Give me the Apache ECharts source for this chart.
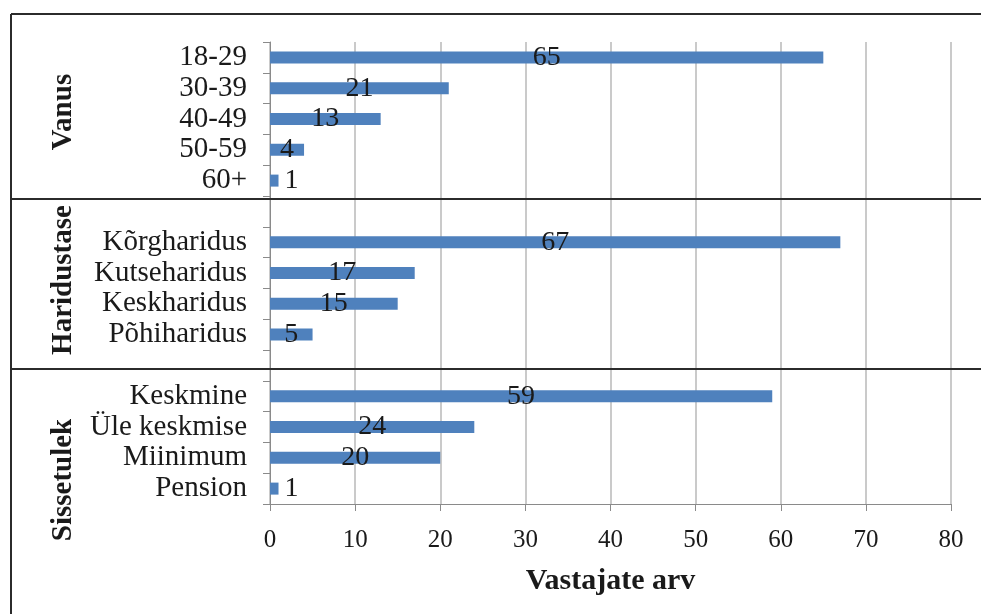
<!DOCTYPE html>
<html>
<head>
<meta charset="utf-8">
<script src="https://cdn.jsdelivr.net/npm/echarts@6/dist/echarts.min.js"></script>
<style>
  html, body { margin: 0; padding: 0; background: #ffffff; }
  #chart { width: 981px; height: 614px; }
</style>
</head>
<body>
<div id="chart"></div>
<script>
// Respondent counts by group
const ageLabels = ['18-29', '30-39', '40-49', '50-59', '60+'];
const ageValues = [65, 21, 13, 4, 1];

const eduLabels = ['Kõrgharidus', 'Kutseharidus', 'Keskharidus', 'Põhiharidus'];
const eduValues = [67, 17, 15, 5];

const incomeLabels = ['Keskmine', 'Üle keskmise', 'Miinimum', 'Pension'];
const incomeValues = [59, 24, 20, 1];

const groupNames = ['Vanus', 'Haridustase', 'Sissetulek'];
const axisTitle = 'Vastajate arv';
const xMin = 0, xMax = 80, xStep = 10;

// One category axis, with an empty slot between the groups
const categories = [...ageLabels, ' ', ...eduLabels, '  ', ...incomeLabels];
const values = [...ageValues, null, ...eduValues, null, ...incomeValues];

const serif = '"Liberation Serif", "Times New Roman", serif';
const ink = '#1a1a1a';

const barData = values.map(v => {
  if (v === null) return null;
  // bars too short for their number get the label beside them
  if (v < 3) return { value: v, label: { position: 'right', distance: 6 } };
  return v;
});

const chart = echarts.init(document.getElementById('chart'), null, { renderer: 'canvas' });

const frame = { stroke: '#2b2b2b', lineWidth: 2 };
const groupStyle = { fontFamily: serif, fontWeight: 'bold', fontSize: 29, fill: ink, align: 'center', verticalAlign: 'middle' };

chart.setOption({
  animation: false,
  backgroundColor: '#ffffff',
  grid: { left: 270, right: 30, top: 42, bottom: 110, containLabel: false },
  xAxis: {
    type: 'value',
    min: xMin, max: xMax, interval: xStep,
    name: axisTitle,
    nameLocation: 'middle',
    nameGap: 62,
    nameTextStyle: { fontFamily: serif, fontWeight: 'bold', fontSize: 30, color: ink },
    axisLine: { show: true, lineStyle: { color: '#8a8a8a', width: 1 } },
    axisTick: { show: true, length: 7, lineStyle: { color: '#8a8a8a' } },
    axisLabel: { fontFamily: serif, fontSize: 25, color: ink, margin: 24 },
    splitLine: { show: true, lineStyle: { color: '#b8b8b8', width: 1.5 } }
  },
  yAxis: {
    type: 'category',
    data: categories,
    inverse: true,
    axisLine: { show: true, lineStyle: { color: '#8a8a8a', width: 1 } },
    axisTick: { show: true, length: 7, alignWithLabel: false, lineStyle: { color: '#8a8a8a' } },
    axisLabel: { fontFamily: serif, fontSize: 29, color: ink, margin: 23, interval: 0 },
    splitLine: { show: false }
  },
  series: [{
    type: 'bar',
    data: barData,
    barWidth: 12,
    itemStyle: { color: '#4f81bd' },
    label: {
      show: true,
      position: 'inside',
      fontFamily: serif,
      fontSize: 28,
      color: ink
    }
  }],
  graphic: [
    { type: 'line', shape: { x1: 11, y1: 14, x2: 981, y2: 14 }, style: frame, z: 10 },
    { type: 'line', shape: { x1: 11, y1: 14, x2: 11, y2: 614 }, style: frame, z: 10 },
    { type: 'line', shape: { x1: 11, y1: 199, x2: 981, y2: 199 }, style: frame, z: 10 },
    { type: 'line', shape: { x1: 11, y1: 369, x2: 981, y2: 369 }, style: frame, z: 10 },
    { type: 'text', x: 64, y: 112, rotation: Math.PI / 2, style: Object.assign({ text: groupNames[0] }, groupStyle) },
    { type: 'text', x: 64, y: 280, rotation: Math.PI / 2, style: Object.assign({ text: groupNames[1] }, groupStyle) },
    { type: 'text', x: 64, y: 480, rotation: Math.PI / 2, style: Object.assign({ text: groupNames[2] }, groupStyle) }
  ]
});
</script>
</body>
</html>
